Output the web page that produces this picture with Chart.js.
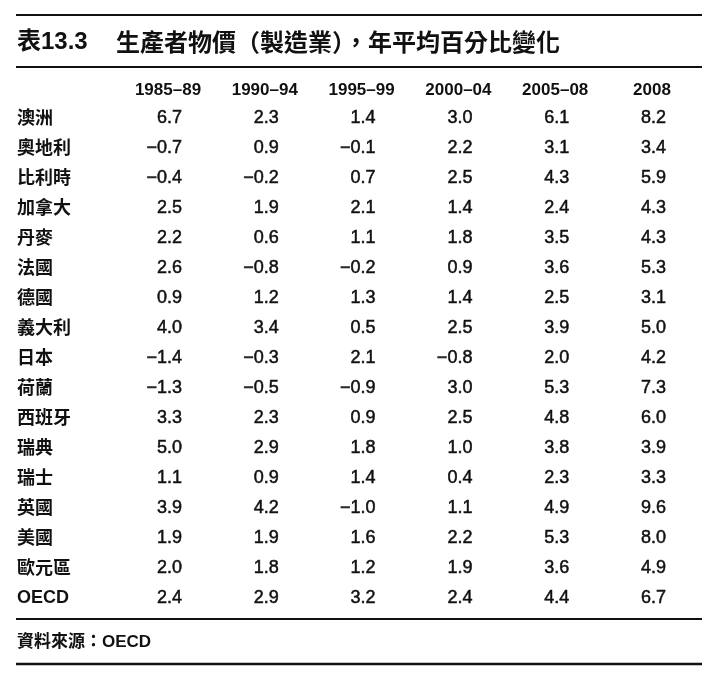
<!DOCTYPE html>
<html>
<head>
<meta charset="utf-8">
<script src="https://cdn.jsdelivr.net/npm/chart.js@4.4.1/dist/chart.umd.min.js"></script>
<style>
  html, body { margin: 0; padding: 0; background: #fff; }
  .wrap { width: 721px; height: 678px; position: relative; }
</style>
</head>
<body>
<div class="wrap"><canvas id="cv"></canvas></div>
<script>
// table data
const countries = ['澳洲', '奧地利', '比利時', '加拿大', '丹麥', '法國', '德國', '義大利', '日本', '荷蘭', '西班牙', '瑞典', '瑞士', '英國', '美國', '歐元區', 'OECD'];
const periods = ['1985–89', '1990–94', '1995–99', '2000–04', '2005–08', '2008'];

const p1985_89 = [6.7, -0.7, -0.4, 2.5, 2.2, 2.6, 0.9, 4.0, -1.4, -1.3, 3.3, 5.0, 1.1, 3.9, 1.9, 2.0, 2.4];
const p1990_94 = [2.3, 0.9, -0.2, 1.9, 0.6, -0.8, 1.2, 3.4, -0.3, -0.5, 2.3, 2.9, 0.9, 4.2, 1.9, 1.8, 2.9];
const p1995_99 = [1.4, -0.1, 0.7, 2.1, 1.1, -0.2, 1.3, 0.5, 2.1, -0.9, 0.9, 1.8, 1.4, -1.0, 1.6, 1.2, 3.2];
const p2000_04 = [3.0, 2.2, 2.5, 1.4, 1.8, 0.9, 1.4, 2.5, -0.8, 3.0, 2.5, 1.0, 0.4, 1.1, 2.2, 1.9, 2.4];
const p2005_08 = [6.1, 3.1, 4.3, 2.4, 3.5, 3.6, 2.5, 3.9, 2.0, 5.3, 4.8, 3.8, 2.3, 4.9, 5.3, 3.6, 4.4];
const p2008 = [8.2, 3.4, 5.9, 4.3, 4.3, 5.3, 3.1, 5.0, 4.2, 7.3, 6.0, 3.9, 3.3, 9.6, 8.0, 4.9, 6.7];

const series = [p1985_89, p1990_94, p1995_99, p2000_04, p2005_08, p2008];

const titleNo = '表13.3';
const titleText = '生產者物價（製造業），年平均百分比變化';
const sourceText = '資料來源：OECD';

const LATIN = "'Liberation Sans', 'Noto Sans CJK TC', sans-serif";
const CJK = "'Noto Sans CJK TC', 'Liberation Sans', sans-serif";

function fmt(v) {
  return v.toFixed(1).replace('-', '−');
}

const tablePlugin = {
  id: 'tablePlugin',
  afterDatasetsDraw(chart) {
    const ctx = chart.ctx;
    const xs = chart.scales.x;
    const ys = chart.scales.y;
    ctx.save();
    ctx.fillStyle = '#111';
    ctx.strokeStyle = '#111';

    // rules
    const rule = (y, w) => {
      ctx.lineWidth = w;
      ctx.beginPath();
      ctx.moveTo(16, y);
      ctx.lineTo(702, y);
      ctx.stroke();
    };
    rule(15, 2);
    rule(67, 2);
    rule(619, 2);
    rule(664, 2.5);

    // title
    ctx.textBaseline = 'middle';
    ctx.textAlign = 'left';
    ctx.font = 'bold 24px ' + LATIN;
    ctx.fillText(titleNo, 17, 42);
    ctx.font = 'bold 24px ' + CJK;
    ctx.fillText(titleText, 116, 42);

    // header from x scale ticks
    ctx.font = 'bold 17px ' + LATIN;
    ctx.textAlign = 'center';
    periods.forEach((p, i) => {
      ctx.fillText(p, xs.getPixelForTick(i), 90);
    });

    // row labels from y scale
    ctx.textAlign = 'left';
    countries.forEach((c, i) => {
      const y = ys.getPixelForValue(i);
      if (c === 'OECD') {
        ctx.font = 'bold 18px ' + LATIN;
        ctx.fillText(c, 17, y);
      } else {
        ctx.font = 'bold 18px ' + CJK;
        ctx.fillText(c, 17, y - 1);
      }
    });

    // cells from dataset elements
    ctx.font = '18px ' + LATIN;
    ctx.textAlign = 'right';
    ctx.lineWidth = 0.5;
    chart.data.datasets.forEach((ds, di) => {
      const meta = chart.getDatasetMeta(di);
      meta.data.forEach((pt, i) => {
        const s = fmt(ds.data[i].v);
        ctx.fillText(s, pt.x + 14, pt.y);
        ctx.strokeText(s, pt.x + 14, pt.y);
      });
    });

    // source
    ctx.textAlign = 'left';
    ctx.font = 'bold 17px ' + LATIN;
    ctx.fillText(sourceText, 17, 642);
    ctx.restore();
  }
};

new Chart(document.getElementById('cv'), {
  type: 'scatter',
  data: {
    datasets: series.map((vals, ci) => ({
      label: periods[ci],
      data: vals.map((v, ri) => ({ x: periods[ci], y: countries[ri], v: v })),
      pointRadius: 0,
      pointHoverRadius: 0,
      showLine: false
    }))
  },
  options: {
    responsive: true,
    maintainAspectRatio: false,
    animation: false,
    events: [],
    layout: { padding: { left: 119.6, right: 20.6, top: 103, bottom: 65 } },
    plugins: {
      legend: { display: false },
      tooltip: { enabled: false }
    },
    scales: {
      x: { type: 'category', labels: periods, offset: true, display: false },
      y: { type: 'category', labels: countries, offset: true, display: false }
    }
  },
  plugins: [tablePlugin]
});
</script>
</body>
</html>
